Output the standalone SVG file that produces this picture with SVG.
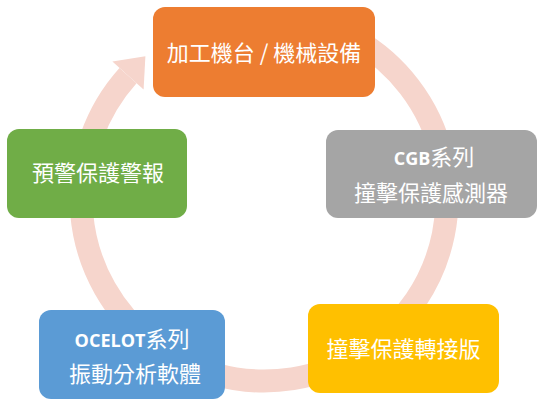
<svg xmlns="http://www.w3.org/2000/svg" width="546" height="406" viewBox="0 0 546 406">
<style>
.lbl{fill:#ffffff;font-family:"Noto Sans CJK TC","Noto Sans CJK SC",sans-serif;font-size:22px;text-anchor:middle}
.lat{font-family:"Open Sans","Noto Sans",sans-serif;font-weight:700;font-size:18px}
.ring{fill:none;stroke:#F6D5CC;stroke-width:23}
</style>
<rect width="546" height="406" fill="#ffffff"/>
<g id="connectors">
<path class="ring" d="M 355.5 39.5 A 183 183 0 1 1 128 75.6"/>
<polygon points="112.4,61.6 145.4,56.3 143.6,89.6" fill="#F6D5CC"/>
</g>
<g id="node-machine">
<rect x="153" y="7" width="222" height="90" rx="12" fill="#ED7D31"/>
<text class="lbl" x="264" y="61">加工機台 / 機械設備</text>
</g>
<g id="node-cgb">
<rect x="326" y="130" width="211" height="88" rx="12" fill="#A5A5A5"/>
<text class="lbl" x="434" y="165"><tspan class="lat">CGB</tspan>系列</text>
<text class="lbl" x="431" y="201">撞擊保護感測器</text>
</g>
<g id="node-adapter">
<rect x="308" y="304" width="191" height="89" rx="12" fill="#FFC000"/>
<text class="lbl" x="403.5" y="357">撞擊保護轉接版</text>
</g>
<g id="node-ocelot">
<rect x="39" y="310" width="186" height="89" rx="12" fill="#5B9BD5"/>
<text class="lbl" x="132" y="347"><tspan class="lat">OCELOT</tspan>系列</text>
<text class="lbl" x="135" y="382">振動分析軟體</text>
</g>
<g id="node-alarm">
<rect x="7" y="129" width="180" height="89" rx="12" fill="#70AD47"/>
<text class="lbl" x="98" y="181">預警保護警報</text>
</g>
</svg>
